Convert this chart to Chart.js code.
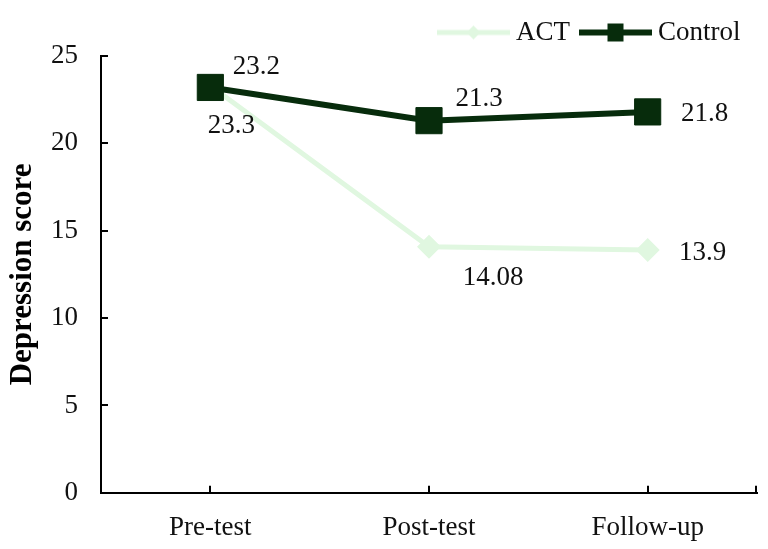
<!DOCTYPE html>
<html><head><meta charset="utf-8">
<script src="https://cdn.jsdelivr.net/npm/chart.js@4.4.1/dist/chart.umd.min.js"></script>
<style>html,body{margin:0;padding:0;background:#fff}</style>
</head><body>
<canvas id="c" width="768" height="549"></canvas>
<script>
// ---- data ----
const categories = ['Pre-test', 'Post-test', 'Follow-up'];
const seriesNames = ['ACT', 'Control'];
const actScores = [23.3, 14.08, 13.9];
const controlScores = [23.2, 21.3, 21.8];
const yTickValues = [0, 5, 10, 15, 20, 25];
const yTitle = 'Depression score';

// ---- styles ----
const ACT_COLOR = '#e0f7e0';
const CTRL_COLOR = '#072c0c';
const FONT = "'Liberation Serif','Times New Roman',serif";

function legendSwatch(color, lineW, shape, size) {
  const c = document.createElement('canvas');
  c.width = 73; c.height = 22;
  const g = c.getContext('2d');
  g.strokeStyle = color; g.lineWidth = lineW;
  g.beginPath(); g.moveTo(0, 11); g.lineTo(73, 11); g.stroke();
  g.fillStyle = color;
  if (shape === 'diamond') {
    g.beginPath();
    g.moveTo(36.5 - size, 11); g.lineTo(36.5, 11 - size);
    g.lineTo(36.5 + size, 11); g.lineTo(36.5, 11 + size);
    g.closePath(); g.fill();
  } else {
    g.fillRect(36.5 - size / 2, 11 - size / 2 - 1, size, size + 2);
  }
  return c;
}
const swatches = [legendSwatch(ACT_COLOR, 5, 'diamond', 7), legendSwatch(CTRL_COLOR, 6, 'square', 16)];

const inwardTicks = {
  id: 'inwardTicks',
  afterDraw(chart, args, opts) {
    const {ctx, chartArea} = chart;
    const xs = chart.scales.x, ys = chart.scales.y;
    const len = opts.length;
    ctx.save();
    ctx.strokeStyle = '#000';
    ctx.lineWidth = 2;
    ctx.beginPath();
    ys.ticks.forEach(t => {
      const y = Math.round(ys.getPixelForValue(t.value));
      ctx.moveTo(chartArea.left, y); ctx.lineTo(chartArea.left + len, y);
    });
    categories.forEach((c, i) => {
      const x = Math.round(xs.getPixelForValue(i));
      ctx.moveTo(x, chartArea.bottom); ctx.lineTo(x, chartArea.bottom - len);
    });
    ctx.moveTo(chartArea.right - 1, chartArea.bottom); ctx.lineTo(chartArea.right - 1, chartArea.bottom - len);
    ctx.stroke();
    ctx.restore();
  }
};

const pointLabels = {
  id: 'pointLabels',
  afterDatasetsDraw(chart, args, opts) {
    const ctx = chart.ctx;
    ctx.save();
    ctx.font = opts.font;
    ctx.fillStyle = opts.color;
    ctx.textAlign = 'center';
    ctx.textBaseline = 'middle';
    chart.data.datasets.forEach((ds, di) => {
      const meta = chart.getDatasetMeta(di);
      meta.data.forEach((pt, i) => {
        const off = opts.offsets[di][i];
        ctx.fillText(String(ds.data[i]), pt.x + off[0], pt.y + off[1]);
      });
    });
    ctx.restore();
  }
};

new Chart(document.getElementById('c'), {
  type: 'line',
  data: {
    labels: categories,
    datasets: [
      {
        label: seriesNames[0], data: actScores, order: 1,
        borderColor: ACT_COLOR, backgroundColor: ACT_COLOR, borderWidth: 5,
        pointStyle: 'rectRot', pointRadius: 12, pointBorderWidth: 0,
        pointBackgroundColor: ACT_COLOR, tension: 0
      },
      {
        label: seriesNames[1], data: controlScores, order: 0,
        borderColor: CTRL_COLOR, backgroundColor: CTRL_COLOR, borderWidth: 6,
        pointStyle: 'rect', pointRadius: 18.5, pointBorderWidth: 1,
        pointBackgroundColor: CTRL_COLOR, tension: 0
      }
    ]
  },
  options: {
    responsive: false,
    animation: false,
    devicePixelRatio: 1,
    events: [],
    layout: {autoPadding: false, padding: {top: 2.5, left: 0, right: 11, bottom: 6}},
    plugins: {
      tooltip: {enabled: false},
      legend: {
        position: 'top', align: 'end',
        labels: {
          usePointStyle: true, pointStyleWidth: 58, padding: 16.5,
          color: '#111', font: {family: FONT, size: 27},
          generateLabels: (chart) => chart.data.datasets.map((ds, i) => ({
            text: ds.label, pointStyle: swatches[i], fillStyle: ds.borderColor,
            strokeStyle: ds.borderColor, lineWidth: 0, hidden: false, datasetIndex: i,
            fontColor: '#111'
          }))
        }
      },
      inwardTicks: {length: 7},
      pointLabels: {
        font: "27px 'Liberation Serif','Times New Roman',serif",
        color: '#111',
        offsets: [
          [[21, 40], [64, 31], [55, 3]],
          [[46, -21], [50, -22], [57, 2]]
        ]
      }
    },
    scales: {
      x: {
        type: 'category', offset: true,
        grid: {display: false, drawTicks: false},
        border: {display: true, color: '#000', width: 2},
        ticks: {color: '#111', font: {family: FONT, size: 27}, padding: 19, maxRotation: 0},
        afterFit: (s) => { s.height = 50.2; s.paddingLeft = 0; s.paddingRight = 0; }
      },
      y: {
        min: 0, max: 25,
        afterBuildTicks: (s) => { s.ticks = yTickValues.map(v => ({value: v})); },
        grid: {display: false, drawTicks: false},
        border: {display: true, color: '#000', width: 2},
        ticks: {color: '#111', font: {family: FONT, size: 27}, padding: 23},
        title: {
          display: true, text: yTitle, color: '#000',
          font: {family: FONT, size: 31, weight: 'bold'},
          padding: {top: 4.4, bottom: 0}
        },
        afterFit: (s) => { s.width = 101; }
      }
    }
  },
  plugins: [inwardTicks, pointLabels]
});
</script>
</body></html>
